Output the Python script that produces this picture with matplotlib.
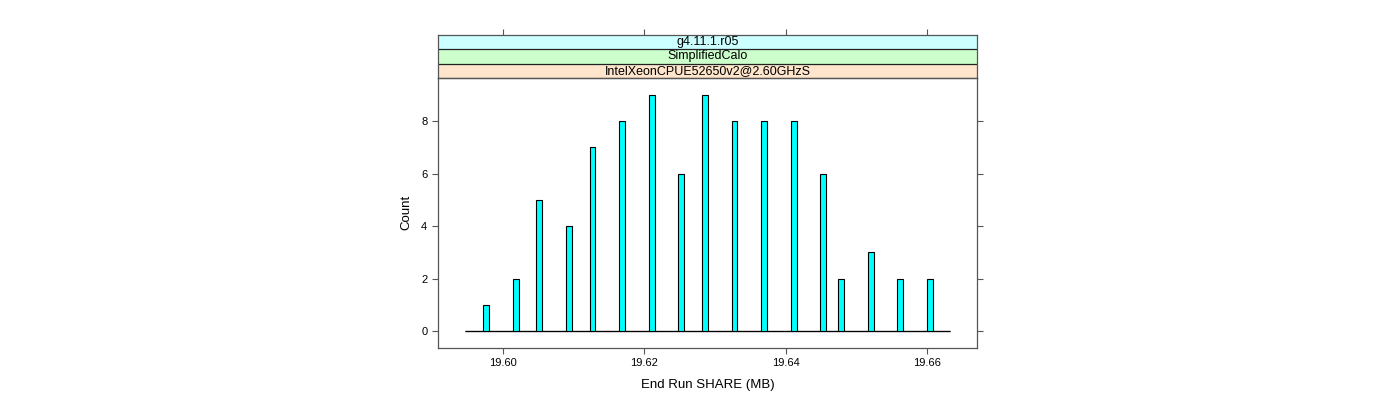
import numpy as np
import matplotlib
matplotlib.use("Agg")
import matplotlib.pyplot as plt

plt.rcParams['font.family'] = ['Liberation Sans', 'DejaVu Sans']

# histogram breaks (lattice style, many narrow bins)
bin_lo = 19.5947
bin_hi = 19.6633
n_bins = 82

# values of the non-empty bins and their counts
share_values = [19.5976, 19.6018, 19.6052, 19.6094, 19.6127, 19.6169, 19.6211,
                19.6253, 19.6286, 19.6328, 19.6370, 19.6412, 19.6453, 19.6479,
                19.6520, 19.6562, 19.6604]
share_counts = [1, 2, 5, 4, 7, 8, 9, 6, 9, 8, 8, 8, 6, 2, 3, 2, 2]

strip_labels = ["IntelXeonCPUE52650v2@2.60GHzS", "SimplifiedCalo", "g4.11.1.r05"]
strip_colors = ["#ffe5cc", "#ccffcc", "#ccffff"]

x_ticks = [19.60, 19.62, 19.64, 19.66]
y_ticks = [0, 2, 4, 6, 8]

edges = np.linspace(bin_lo, bin_hi, n_bins + 1)
counts, edges = np.histogram(share_values, bins=edges, weights=share_counts)

W, H = 1400, 400
fig = plt.figure(figsize=(14, 4), dpi=100)

left, right = 437.7 / W, 977.3 / W
bottom, top = 1 - 347.7 / H, 1 - 78 / H
strip_top = 1 - 34.7 / H

ax = fig.add_axes([left, bottom, right - left, top - bottom])
ax_s = fig.add_axes([left, top, right - left, strip_top - top], sharex=ax)

frame = "#555555"

# empty bins show up as a flat line along zero
ax.hlines(0, edges[0], edges[-1], color="black", linewidth=0.9, zorder=1)
ax.bar(edges[:-1], counts, width=np.diff(edges), align='edge',
       color="#00ffff", edgecolor="black", linewidth=0.8, zorder=2)

ax.set_xlim(19.5908, 19.6671)
ax.set_ylim(-0.62, 9.63)
ax.set_xticks(x_ticks)
ax.set_xticklabels(["%.2f" % t for t in x_ticks])
ax.set_yticks(y_ticks)
ax.tick_params(axis='both', direction='out', length=4.5, width=0.8, color=frame,
               labelsize=8, pad=3)
ax.tick_params(axis='y', right=True)
for sp in ax.spines.values():
    sp.set_color(frame)
    sp.set_linewidth(0.9)

ax.set_xlabel("End Run SHARE (MB)", fontsize=9.5, labelpad=8)
ax.set_ylabel("Count", fontsize=9.5, labelpad=6)

# strips
n = len(strip_labels)
for i, (lab, col) in enumerate(zip(strip_labels, strip_colors)):
    y0 = i / n
    ax_s.axhspan(y0, y0 + 1 / n, xmin=0, xmax=1, color=col, zorder=0)
    ax_s.axhline(y0, color="#222222", linewidth=0.9)
    ax_s.text(0.5, y0 + 0.5 / n, lab, transform=ax_s.transAxes,
              ha='center', va='center', fontsize=9)
ax_s.set_ylim(0, 1)
ax_s.set_yticks([])
ax_s.tick_params(axis='x', bottom=False, labelbottom=False, top=True,
                 labeltop=False, direction='out', length=4.5, width=0.8, color=frame)
for sp in ax_s.spines.values():
    sp.set_color(frame)
    sp.set_linewidth(0.9)

fig.savefig("out.png", dpi=100)
